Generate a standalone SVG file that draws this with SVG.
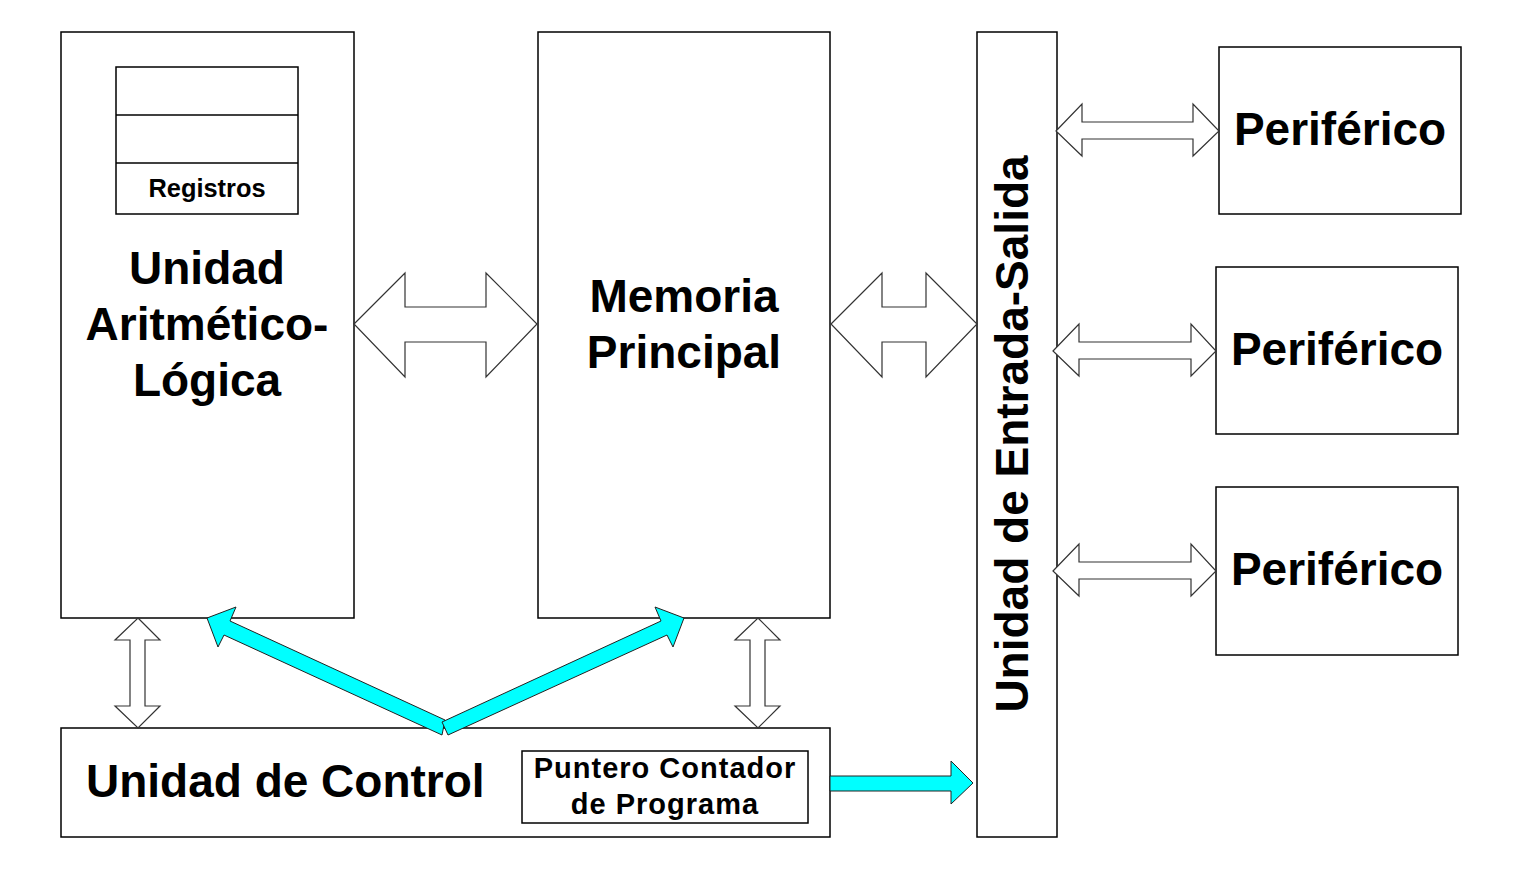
<svg xmlns="http://www.w3.org/2000/svg" width="1522" height="892" viewBox="0 0 1522 892">
<style>
.box{fill:#fff;stroke:#000;stroke-width:1.5}
.t{font-family:"Liberation Sans",Arial,sans-serif;font-weight:bold;fill:#000;text-anchor:middle}
.big{font-size:46px}
.bus{fill:#fff;stroke:#333;stroke-width:1.2;stroke-linejoin:miter}
.cy{fill:#00ffff;stroke:#222;stroke-width:1}
</style>
<rect width="1522" height="892" fill="#fff"/>
<g id="alu">
<rect class="box" x="61" y="32" width="293" height="586"/>
<text class="t big" x="207" y="284">Unidad</text>
<text class="t big" x="207" y="340">Aritmético-</text>
<text class="t big" x="207" y="396">Lógica</text>
</g>
<g id="registros">
<rect class="box" x="116" y="67" width="182" height="147"/>
<line x1="116" y1="115" x2="298" y2="115" stroke="#000" stroke-width="1.5"/>
<line x1="116" y1="163" x2="298" y2="163" stroke="#000" stroke-width="1.5"/>
<text class="t" x="207" y="197" font-size="25.4">Registros</text>
</g>
<g id="memoria">
<rect class="box" x="538" y="32" width="292" height="586"/>
<text class="t big" x="684" y="312">Memoria</text>
<text class="t big" x="684" y="368">Principal</text>
</g>
<g id="es">
<rect class="box" x="977" y="32" width="80" height="805"/>
<text class="t big" transform="translate(1028,434) rotate(-90)">Unidad de Entrada-Salida</text>
</g>
<g id="periferico1">
<rect class="box" x="1219" y="47" width="242" height="167"/>
<text class="t big" x="1340" y="145">Periférico</text>
</g>
<g id="periferico2">
<rect class="box" x="1216" y="267" width="242" height="167"/>
<text class="t big" x="1337" y="365">Periférico</text>
</g>
<g id="periferico3">
<rect class="box" x="1216" y="487" width="242" height="168"/>
<text class="t big" x="1337" y="585">Periférico</text>
</g>
<g id="control">
<rect class="box" x="61" y="728" width="769" height="109"/>
<text class="t big" x="86" y="797" style="text-anchor:start">Unidad de Control</text>
</g>
<g id="puntero">
<rect class="box" x="522" y="751" width="286" height="72"/>
<text class="t" x="665" y="778" font-size="29" letter-spacing="1">Puntero Contador</text>
<text class="t" x="665" y="814" font-size="29" letter-spacing="1">de Programa</text>
</g>
<g id="connectors">
<polygon class="bus" points="354,324 405,273 405,307 486,307 486,273 537,324 486,377 486,342 405,342 405,377"/>
<polygon class="bus" points="831,324 882,273 882,307 926,307 926,273 977,324 926,377 926,342 882,342 882,377"/>
<polygon class="bus" points="1056,131 1082,104 1082,122 1193,122 1193,104 1219,131 1193,156 1193,139 1082,139 1082,156"/>
<polygon class="bus" points="1053,351 1079,324 1079,342 1191,342 1191,324 1216,351 1191,376 1191,359 1079,359 1079,376"/>
<polygon class="bus" points="1053,571 1079,544 1079,562 1191,562 1191,544 1216,571 1191,596 1191,579 1079,579 1079,596"/>
<polygon class="bus" points="138,618 160,640 145,640 145,706 160,706 138,728 115,706 130,706 130,640 115,640"/>
<polygon class="bus" points="758,618 780,640 765,640 765,706 780,706 758,728 735,706 750,706 750,640 735,640"/>
<polygon class="cy" points="830,776 951,776 951,761 973,783 951,804 951,791 830,791"/>
<polygon class="cy" points="207,618 236,607 230,621 445,720 442,735 224,635 218,647"/>
<polygon class="cy" points="684,618 655,607 661,621 442,722 448,735 667,635 673,647"/>
</g>
</svg>
